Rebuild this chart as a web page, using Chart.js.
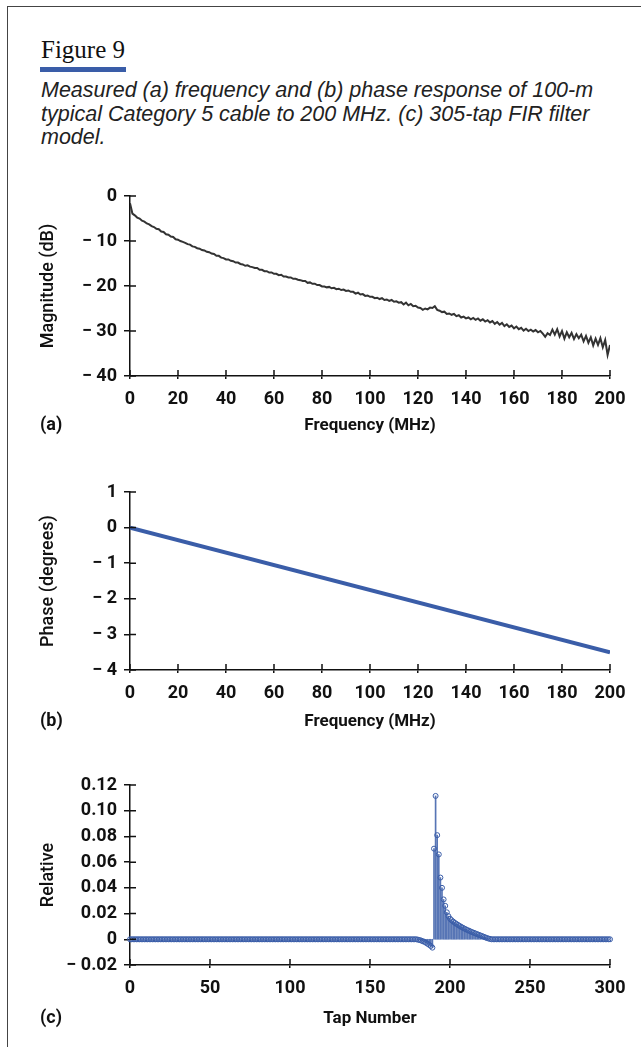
<!DOCTYPE html>
<html>
<head>
<meta charset="utf-8">
<script src="https://cdn.jsdelivr.net/npm/chart.js@4.4.1/dist/chart.umd.min.js"></script>
<style>
  html, body { margin: 0; padding: 0; background: #fff; }
  body { width: 641px; height: 1047px; position: relative; overflow: hidden; }
  .frame { position: absolute; left: 7px; top: 6px; width: 700px; height: 1100px;
           border-left: 1.5px solid #444; border-top: 1.5px solid #444; }
  .fig { position: absolute; left: 41px; top: 37px; font: 25px/25px 'Liberation Serif', 'DejaVu Serif', serif; color: #111; }
  .bar { position: absolute; left: 40px; top: 67px; width: 86px; height: 5px; background: #3a5da8; }
  .cap { position: absolute; left: 41px; top: 79px; font: italic 21.5px/23.5px 'Liberation Sans', Arial, sans-serif;
         color: #222; white-space: nowrap; }
  .tag { position: absolute; left: 40px; font: bold 18px/22px Roboto, 'Liberation Sans', sans-serif; color: #111; }
  canvas { position: absolute; left: 0; }
</style>
</head>
<body>
<div class="frame"></div>
<div class="fig">Figure 9</div>
<div class="bar"></div>
<div class="cap">Measured (a) frequency and (b) phase response of 100-m<br>typical Category 5 cable to 200 MHz. (c) 305-tap FIR filter<br>model.</div>

<canvas id="chartA" width="641" height="280" style="top:170px"></canvas>
<canvas id="chartB" width="641" height="278" style="top:466px"></canvas>
<canvas id="chartC" width="641" height="280" style="top:759px"></canvas>
<div class="tag" style="top:413px">(a)</div>
<div class="tag" style="top:709px">(b)</div>
<div class="tag" style="top:1006px">(c)</div>

<script>
// (a) magnitude in dB, one value per MHz from 0 to 200
const magnitudeDb = [
  -1.6, -3.9, -4.3, -4.8, -5.0, -5.5, -5.7, -6.1, -6.3, -6.7,
  -6.9, -7.3, -7.4, -7.9, -8.0, -8.5, -8.6, -9.0, -9.1, -9.6,
  -9.7, -10.0, -10.2, -10.4, -10.7, -10.8, -11.2, -11.3, -11.6, -11.7,
  -12.0, -12.1, -12.4, -12.5, -12.8, -12.9, -13.3, -13.3, -13.7, -13.8,
  -14.1, -14.1, -14.4, -14.5, -14.8, -14.8, -15.1, -15.2, -15.5, -15.4,
  -15.7, -15.8, -16.0, -16.0, -16.4, -16.4, -16.7, -16.7, -17.0, -17.0,
  -17.3, -17.3, -17.6, -17.5, -17.9, -17.9, -18.1, -18.1, -18.4, -18.4,
  -18.6, -18.7, -18.9, -18.9, -19.3, -19.2, -19.5, -19.5, -19.8, -19.8,
  -20.1, -20.1, -20.3, -20.2, -20.5, -20.4, -20.7, -20.6, -20.9, -20.8,
  -21.1, -21.0, -21.3, -21.3, -21.7, -21.5, -21.9, -21.8, -22.2, -22.1,
  -22.4, -22.4, -22.7, -22.6, -22.9, -22.7, -23.1, -23.0, -23.3, -23.1,
  -23.5, -23.4, -23.7, -23.6, -24.1, -23.7, -24.3, -24.0, -24.5, -24.4,
  -24.8, -24.9, -25.3, -25.0, -25.2, -24.8, -24.9, -24.5, -25.3, -25.5,
  -25.8, -25.7, -26.2, -26.1, -26.4, -26.2, -26.7, -26.5, -27.0, -26.8,
  -27.2, -27.0, -27.4, -27.1, -27.5, -27.2, -27.7, -27.4, -27.9, -27.6,
  -28.1, -27.8, -28.4, -28.0, -28.6, -28.2, -28.9, -28.5, -29.1, -28.8,
  -29.4, -29.0, -29.6, -29.3, -29.9, -29.5, -30.0, -29.7, -30.1, -29.8,
  -30.3, -30.0, -30.6, -31.3, -30.5, -30.9, -29.7, -30.8, -29.6, -31.2,
  -30.0, -31.7, -30.3, -31.4, -30.4, -31.8, -30.7, -31.6, -30.8, -32.3,
  -31.1, -32.6, -31.4, -33.2, -31.7, -33.1, -31.6, -33.6, -32.0, -35.3,
  -33.1
];

// (b) phase, straight line
const phaseFreq = [0, 200];
const phaseDeg = [0, -3.5];

// (c) FIR tap weights, taps 0..300
const tapValues = [
  0,0,0,0,0,0,0,0,0,0,0,0,0,0,0,0,0,0,0,0,
  0,0,0,0,0,0,0,0,0,0,0,0,0,0,0,0,0,0,0,0,
  0,0,0,0,0,0,0,0,0,0,0,0,0,0,0,0,0,0,0,0,
  0,0,0,0,0,0,0,0,0,0,0,0,0,0,0,0,0,0,0,0,
  0,0,0,0,0,0,0,0,0,0,0,0,0,0,0,0,0,0,0,0,
  0,0,0,0,0,0,0,0,0,0,0,0,0,0,0,0,0,0,0,0,
  0,0,0,0,0,0,0,0,0,0,0,0,0,0,0,0,0,0,0,0,
  0,0,0,0,0,0,0,0,0,0,0,0,0,0,0,0,0,0,0,0,
  0,0,0,0,0,0,0,0,0,0,0,0,0,0,0,0,0,0,0,0,
  -0.0003, -0.0006, -0.001, -0.0015, -0.002, -0.0027, -0.0035, -0.0043, -0.0052, -0.0065,
  0.0705, 0.1115, 0.081, 0.066, 0.048, 0.040, 0.031, 0.026, 0.021, 0.018,
  0.016, 0.0148, 0.0138, 0.0128, 0.012, 0.0112, 0.0104, 0.0097, 0.009, 0.0083,
  0.0077, 0.0071, 0.0066, 0.006, 0.0055, 0.005, 0.0045, 0.004, 0.0035, 0.003,
  0.0025, 0.002, 0.0015, 0.001, 0.0006, 0.0003,
  0,0,0,0,0,0,0,0,0,0,0,0,0,0,0,0,0,0,0,0,
  0,0,0,0,0,0,0,0,0,0,0,0,0,0,0,0,0,0,0,0,
  0,0,0,0,0,0,0,0,0,0,0,0,0,0,0,0,0,0,0,0,
  0,0,0,0,0,0,0,0,0,0,0,0,0,0,0
];

const fontFam = "Roboto, 'Liberation Sans', Arial, sans-serif";
const blue = '#3a5da8';
const ink = '#111';

function minusFmt(v) {
  return v < 0 ? '\u2212 ' + (-v) : String(v);
}
function relFmt(v) {
  if (Math.abs(v) < 1e-9) return '0';
  return v < 0 ? '\u2212 ' + (-v).toFixed(2) : v.toFixed(2);
}

// tick marks that also reach into the plot, like the original
const innerTicks = {
  id: 'innerTicks',
  afterDatasetsDraw(chart) {
    const {ctx, chartArea, scales} = chart;
    ctx.save();
    ctx.strokeStyle = ink;
    ctx.lineWidth = 1.5;
    ctx.beginPath();
    scales.x.ticks.forEach((t, i) => {
      const px = scales.x.getPixelForTick(i);
      ctx.moveTo(px, chartArea.bottom);
      ctx.lineTo(px, chartArea.bottom - 6);
    });
    scales.y.ticks.forEach((t, i) => {
      const py = scales.y.getPixelForTick(i);
      ctx.moveTo(chartArea.left, py);
      ctx.lineTo(chartArea.left + 6, py);
    });
    ctx.stroke();
    ctx.restore();
  }
};

function axes(c) {
  return {
    x: {
      type: 'linear', min: c.xMin, max: c.xMax, offset: false,
      ticks: { stepSize: c.xStep, padding: 10, color: ink, maxRotation: 0, autoSkip: false,
               font: { family: fontFam, size: 18, weight: 'bold' } },
      grid: { drawOnChartArea: false, offset: false, tickLength: 3, color: ink, lineWidth: 1.5 },
      border: { color: ink, width: 1.5 },
      title: { display: true, text: c.xTitle, color: ink,
               font: { family: fontFam, size: 17, weight: 'bold' },
               padding: { top: 0, bottom: c.xTitlePad } },
      afterFit(s) { s.height = 74; s.paddingLeft = 0; s.paddingRight = 0; }
    },
    y: {
      type: 'linear', min: c.yMin, max: c.yMax,
      ticks: { stepSize: c.yStep, padding: 7, color: ink, callback: c.fmt,
               font: { family: fontFam, size: 18, weight: 'bold' } },
      grid: { drawOnChartArea: false, tickLength: 6, color: ink, lineWidth: 1.5 },
      border: { color: ink, width: 1.5 },
      title: { display: true, text: c.yTitle, color: ink,
               font: { family: fontFam, size: 18, weight: '500' },
               padding: { top: 38, bottom: 0 } },
      afterFit(s) { s.width = 130; s.paddingTop = 0; s.paddingBottom = 0; }
    }
  };
}

const common = {
  responsive: false,
  animation: false,
  layout: { padding: { left: 0, top: 26, right: 31, bottom: 0 } },
  plugins: { legend: { display: false }, tooltip: { enabled: false } }
};

// (a)
new Chart(document.getElementById('chartA'), {
  type: 'line',
  data: {
    datasets: [{
      data: magnitudeDb.map((v, i) => ({ x: i, y: v })),
      borderColor: '#333',
      borderWidth: 2,
      pointRadius: 0,
      tension: 0
    }]
  },
  options: Object.assign({}, common, {
    scales: axes({ xMin: 0, xMax: 200, xStep: 20, yMin: -40, yMax: 0, yStep: 10,
                   xTitle: 'Frequency (MHz)', yTitle: 'Magnitude (dB)', fmt: minusFmt, xTitlePad: 14 })
  }),
  plugins: [innerTicks]
});

// (b)
new Chart(document.getElementById('chartB'), {
  type: 'line',
  data: {
    datasets: [{
      data: phaseFreq.map((f, i) => ({ x: f, y: phaseDeg[i] })),
      borderColor: blue,
      borderWidth: 4,
      pointRadius: 0
    }]
  },
  options: Object.assign({}, common, {
    scales: axes({ xMin: 0, xMax: 200, xStep: 20, yMin: -4, yMax: 1, yStep: 1,
                   xTitle: 'Frequency (MHz)', yTitle: 'Phase (degrees)', fmt: minusFmt, xTitlePad: 12 })
  }),
  plugins: [innerTicks]
});

// (c) stem plot: thin bars for stems, hollow circles on top
const tapPoints = tapValues.map((v, i) => ({ x: i, y: v }));
new Chart(document.getElementById('chartC'), {
  type: 'scatter',
  data: {
    datasets: [
      {
        type: 'bar',
        data: tapPoints,
        backgroundColor: 'rgba(58,93,168,0.85)',
        barThickness: 1,
        order: 2
      },
      {
        type: 'scatter',
        data: tapPoints,
        pointRadius: 2.5,
        pointBorderWidth: 1,
        pointBorderColor: blue,
        pointBackgroundColor: 'rgba(0,0,0,0)',
        clip: false,
        order: 1
      }
    ]
  },
  options: Object.assign({}, common, {
    scales: axes({ xMin: 0, xMax: 300, xStep: 50, yMin: -0.02, yMax: 0.12, yStep: 0.02,
                   xTitle: 'Tap Number', yTitle: 'Relative', fmt: relFmt, xTitlePad: 10 })
  }),
  plugins: [innerTicks]
});
</script>
</body>
</html>
